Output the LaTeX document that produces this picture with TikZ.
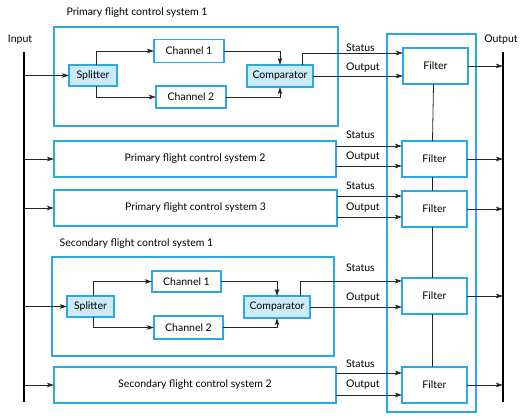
\documentclass[tikz,border=0pt]{standalone}
\usepackage{fontspec}
\setmainfont{Lato}
\usetikzlibrary{arrows.meta,calc}
\definecolor{bblue}{RGB}{41,171,226}
\definecolor{lblue}{RGB}{204,235,248}
\begin{document}
\begin{tikzpicture}[x=1pt,y=-1pt,
  font=\fontsize{10.5}{12}\selectfont,
  box/.style={draw=bblue,line width=1.4pt,inner sep=0pt,outer sep=0pt,fill=white},
  fbox/.style={box,fill=lblue},
  arr/.style={draw=black!85,line width=0.8pt,-{Stealth[length=7pt,width=4.5pt,inset=1.5pt]}},
  ln/.style={draw=black!85,line width=0.8pt},
  bus/.style={draw=black,line width=2.6pt},
  lbl/.style={inner sep=0pt,anchor=west}]
\useasboundingbox (0,0) rectangle (525,419);
% buses
\coordinate (in1) at (24,52); \coordinate (in2) at (24,402);
\coordinate (out1) at (503,52); \coordinate (out2) at (503,402);
\draw[bus] (in1) -- (in2);
\draw[bus] (out1) -- (out2);
\node[inner sep=0pt] (inl) at (20,40) {Input};
\node[inner sep=0pt] (outl) at (501,40) {Output};
% filter bank
\node[box,fill=none,minimum width=89,minimum height=378] (FB) at (431.5,223) {};
\node[box,minimum width=65,minimum height=36] (F1) at (435.5,66) {Filter};
\node[box,minimum width=65,minimum height=36] (F2) at (434.5,159) {Filter};
\node[box,minimum width=65,minimum height=36] (F3) at (434.5,209) {Filter};
\node[box,minimum width=65,minimum height=36] (F4) at (434.5,296) {Filter};
\node[box,minimum width=65,minimum height=36] (F5) at (434.5,385) {Filter};
\foreach \a/\b in {F1/F2,F2/F3,F3/F4,F4/F5}
  \draw[ln] ([xshift=-2pt]\a.south) -- ([xshift=-2pt]\b.north);
\foreach \f in {F1,F2,F3,F4,F5}
  \draw[arr] (\f.east) -- (out1 |- \f.east);
% Primary 1
\node[inner sep=0pt] (t1) at (137,13) {Primary flight control system 1};
\node[box,minimum width=284,minimum height=99] (P1) at (196,76.5) {};
\node[fbox,minimum width=48,minimum height=21] (Sp1) at (93,75.5) {Splitter};
\node[box,minimum width=70,minimum height=23] (C11) at (189,51) {Channel 1};
\node[box,minimum width=70,minimum height=22] (C12) at (191,97) {Channel 2};
\node[fbox,minimum width=66,minimum height=22] (Cm1) at (280,76) {Comparator};
\draw[arr] (in1 |- Sp1) -- (Sp1.west);
\draw[arr] ([xshift=3pt]Sp1.north) |- (C11.west);
\draw[arr] ([xshift=3pt]Sp1.south) |- (C12.west);
\draw[arr] (C11.east) -| (Cm1.north);
\draw[arr] (C12.east) -| (Cm1.south);
\draw[arr] ([xshift=22pt]Cm1.north) |- (F1.west |- 0,53);
\draw[arr] (Cm1.east) -- (F1.west |- Cm1.east);
\node[lbl] (s1) at (346,48) {Status};
\node[lbl] (o1) at (346,68) {Output};
% Primary 2
\node[box,minimum width=282,minimum height=36] (P2) at (195,159) {Primary flight control system 2};
\draw[arr] (in1 |- P2) -- (P2.west);
\draw[arr] (P2.east |- 0,146) -- (F2.west |- 0,146);
\draw[arr] (P2.east |- 0,166) -- (F2.west |- 0,166);
\node[lbl] (s2) at (346,135) {Status};
\node[lbl] (o2) at (346,157) {Output};
% Primary 3
\node[box,minimum width=283,minimum height=36] (P3) at (195.5,208) {Primary flight control system 3};
\draw[arr] (in1 |- P3) -- (P3.west);
\draw[arr] (P3.east |- 0,196) -- (F3.west |- 0,196);
\draw[arr] (P3.east |- 0,217) -- (F3.west |- 0,217);
\node[lbl] (s3) at (346,186) {Status};
\node[lbl] (o3) at (346,208) {Output};
% Secondary 1
\node[inner sep=0pt] (t2) at (136.5,244) {Secondary flight control system 1};
\node[box,minimum width=282,minimum height=99] (S1) at (193,306.5) {};
\node[fbox,minimum width=47,minimum height=21] (Sp2) at (90.5,306.5) {Splitter};
\node[box,minimum width=69,minimum height=21] (C21) at (186.5,281.5) {Channel 1};
\node[box,minimum width=69,minimum height=23] (C22) at (188.5,327.5) {Channel 2};
\node[fbox,minimum width=66,minimum height=22] (Cm2) at (277,307) {Comparator};
\draw[arr] (in1 |- Sp2) -- (Sp2.west);
\draw[arr] ([xshift=2.5pt]Sp2.north) |- (C21.west);
\draw[arr] ([xshift=2.5pt]Sp2.south) |- (C22.west);
\draw[arr] (C21.east) -| (Cm2.north);
\draw[arr] (C22.east) -| (Cm2.south);
\draw[arr] ([xshift=23pt]Cm2.north) |- (F4.west |- 0,281);
\draw[arr] (Cm2.east) -- (F4.west |- Cm2.east);
\node[lbl] (s4) at (346,268) {Status};
\node[lbl] (o4) at (346,298) {Output};
% Secondary 2
\node[box,minimum width=282,minimum height=36] (S2) at (195,385) {Secondary flight control system 2};
\draw[arr] (in1 |- S2) -- (S2.west);
\draw[arr] (S2.east |- 0,373) -- (F5.west |- 0,373);
\draw[arr] (S2.east |- 0,395) -- (F5.west |- 0,395);
\node[lbl] (s5) at (346,364) {Status};
\node[lbl] (o5) at (346,385) {Output};
\end{tikzpicture}
\end{document}
